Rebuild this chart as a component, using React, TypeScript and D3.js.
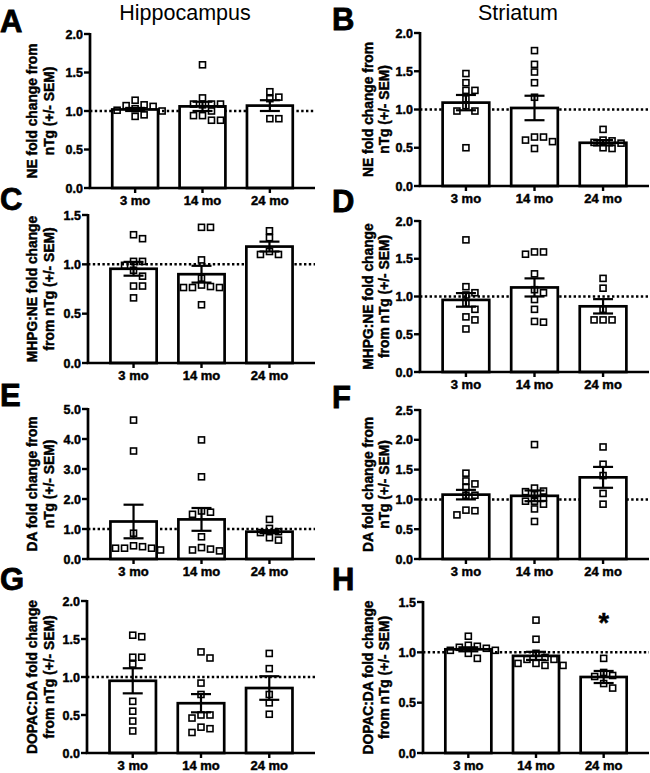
import React from 'react';
import * as d3 from 'd3';

// age groups
const groups = ['3 mo', '14 mo', '24 mo'];

// NE, hippocampus
const neHippo = [
  [1.03, 1.07, 0.93, 1.08, 0.95, 1.14, 1.01, 1.06, 1.0],
  [1.6, 1.17, 1.08, 1.09, 1.09, 1.09, 0.94, 0.88, 0.88, 0.94, 1.0],
  [1.18, 1.16, 1.25, 0.9, 0.9],
];
const neHippoMean = [1.02, 1.06, 1.07];
const neHippoSem = [0.02, 0.06, 0.07];

// NE, striatum
const neStr = [
  [1.47, 1.35, 1.25, 1.25, 1.14, 1.05, 0.98, 0.98, 0.5],
  [1.77, 1.59, 1.49, 1.35, 1.16, 0.64, 0.64, 0.58, 0.49, 0.6],
  [0.74, 0.56, 0.57, 0.6, 0.59, 0.5, 0.49],
];
const neStrMean = [1.09, 1.02, 0.565];
const neStrSem = [0.1, 0.16, 0.035];

// MHPG:NE, hippocampus
const mhpgHippo = [
  [1.26, 1.3, 1.03, 1.03, 0.99, 0.94, 0.88, 0.78, 0.78, 0.66],
  [1.375, 1.375, 1.045, 0.86, 0.775, 0.765, 0.765, 0.765, 0.79, 0.59],
  [1.34, 1.27, 1.13, 1.1, 1.1],
];
const mhpgHippoMean = [0.955, 0.9, 1.18];
const mhpgHippoSem = [0.07, 0.085, 0.05];

// MHPG:NE, striatum
const mhpgStr = [
  [1.75, 1.13, 1.05, 1.02, 0.91, 0.83, 0.73, 0.69, 0.57],
  [1.59, 1.56, 1.59, 1.3, 1.09, 0.96, 1.05, 0.83, 0.66, 0.67],
  [1.24, 1.11, 0.83, 0.69, 0.69, 0.69],
];
const mhpgStrMean = [0.955, 1.12, 0.87];
const mhpgStrSem = [0.09, 0.12, 0.095];

// DA, hippocampus
const daHippo = [
  [4.63, 3.6, 0.86, 0.41, 0.36, 0.3, 0.36, 0.36, 0.44],
  [3.97, 2.74, 1.6, 1.49, 1.56, 0.74, 0.33, 0.27, 0.3, 0.38],
  [1.32, 0.91, 0.88, 1.02, 0.63, 0.71],
];
const daHippoMean = [1.25, 1.32, 0.91];
const daHippoSem = [0.56, 0.38, 0.05];

// DA, striatum
const daStr = [
  [1.44, 1.31, 1.26, 1.2, 1.07, 1.07, 0.82, 0.81, 0.74],
  [1.92, 1.19, 1.14, 1.13, 1.08, 1.03, 0.97, 0.97, 0.92, 0.84, 0.63],
  [1.88, 1.59, 1.4, 1.1, 0.92],
];
const daStrMean = [1.08, 1.06, 1.37];
const daStrSem = [0.08, 0.09, 0.175];

// DOPAC:DA, hippocampus
const dopacHippo = [
  [1.53, 1.55, 1.26, 1.26, 1.17, 0.68, 0.55, 0.42, 0.29],
  [1.25, 1.33, 0.92, 0.77, 0.5, 0.46, 0.5, 0.34, 0.27, 0.32],
  [1.31, 1.11, 0.77, 0.66, 0.51],
];
const dopacHippoMean = [0.95, 0.655, 0.855];
const dopacHippoSem = [0.165, 0.12, 0.155];

// DOPAC:DA, striatum
const dopacStr = [
  [1.16, 1.07, 1.04, 1.05, 1.02, 1.06, 0.94, 1.02, 0.99],
  [1.32, 1.13, 0.99, 0.93, 0.89, 0.87, 0.87, 0.89, 0.93, 0.95],
  [0.94, 0.8, 0.77, 0.76, 0.645, 0.69],
];
const dopacStrMean = [1.03, 0.965, 0.755];
const dopacStrSem = [0.02, 0.04, 0.06];

// tick values
const ticks20 = [0, 0.5, 1.0, 1.5, 2.0];
const ticks15 = [0, 0.5, 1.0, 1.5];
const ticks25 = [0, 0.5, 1.0, 1.5, 2.0, 2.5];
const ticks50 = [0, 1, 2, 3, 4, 5];

const labelNE = ['NE fold change from', 'nTg (+/- SEM)'];
const labelMHPG = ['MHPG:NE fold change', 'from nTg (+/- SEM)'];
const labelDA = ['DA fold change from', 'nTg (+/- SEM)'];
const labelDOPAC = ['DOPAC:DA fold change', 'from nTg (+/- SEM)'];

const FONT = '"Liberation Sans", Arial, sans-serif';
// bold text in the figure is heavier than plain bold, thicken a bit
const heavy = { fontWeight: 'bold' as const, fontFamily: FONT, stroke: '#000', strokeWidth: 0.45 };

const panels = [
  { letter: 'A', col: 0, axisX: 90, top: 34, bottom: 188, ticks: ticks20, label: labelNE, values: neHippo, means: neHippoMean, sems: neHippoSem, letterY: 32 },
  { letter: 'B', col: 1, axisX: 420, top: 33, bottom: 186, ticks: ticks20, label: labelNE, values: neStr, means: neStrMean, sems: neStrSem, letterY: 30 },
  { letter: 'C', col: 0, axisX: 88, top: 215, bottom: 363, ticks: ticks15, label: labelMHPG, values: mhpgHippo, means: mhpgHippoMean, sems: mhpgHippoSem, letterY: 210 },
  { letter: 'D', col: 1, axisX: 420, top: 221, bottom: 372, ticks: ticks20, label: labelMHPG, values: mhpgStr, means: mhpgStrMean, sems: mhpgStrSem, letterY: 212 },
  { letter: 'E', col: 0, axisX: 88, top: 409, bottom: 559, ticks: ticks50, label: labelDA, values: daHippo, means: daHippoMean, sems: daHippoSem, letterY: 406 },
  { letter: 'F', col: 1, axisX: 420, top: 410, bottom: 559, ticks: ticks25, label: labelDA, values: daStr, means: daStrMean, sems: daStrSem, letterY: 408 },
  { letter: 'G', col: 0, axisX: 87, top: 601, bottom: 753, ticks: ticks20, label: labelDOPAC, values: dopacHippo, means: dopacHippoMean, sems: dopacHippoSem, letterY: 590 },
  { letter: 'H', col: 1, axisX: 423, top: 602, bottom: 753, ticks: ticks15, label: labelDOPAC, values: dopacStr, means: dopacStrMean, sems: dopacStrSem, letterY: 590, star: { group: 2, value: 1.34 } },
];

// simple swarm so squares don't sit on top of each other
function swarm(vals: number[], y: (v: number) => number, cx: number) {
  const step = 9;
  const placed: { x: number; y: number }[] = [];
  const out: { x: number; y: number }[] = new Array(vals.length);
  const order = vals.map((v, i) => ({ v, i })).sort((a, b) => b.v - a.v);
  const offsets = [0];
  for (let j = 1; j < 10; j++) offsets.push(j * step, -j * step);
  for (const { v, i } of order) {
    const py = y(v);
    let px = cx;
    for (const dx of offsets) {
      const hit = placed.some(p => Math.abs(p.x - (cx + dx)) < 8 && Math.abs(p.y - py) < 6.5);
      if (!hit) { px = cx + dx; break; }
    }
    placed.push({ x: px, y: py });
    out[i] = { x: px, y: py };
  }
  return out;
}

const Panel = ({ p }: { p: typeof panels[number] }) => {
  const xEnd = p.col === 0 ? 315 : 649;
  const x = d3.scaleBand().domain(groups).range([p.axisX, xEnd]).paddingInner(0.32).paddingOuter(0.33);
  const yMax = p.ticks[p.ticks.length - 1];
  const y = d3.scaleLinear().domain([0, yMax]).range([p.bottom, p.top]);
  const fmt = d3.format('.1f');
  const bw = x.bandwidth();
  const labX = p.col === 0 ? [32, 49] : [368, 384];
  const midY = (p.top + p.bottom) / 2;
  const letterX = p.col === 0 ? 0 : 332;

  return (
    <g>
      <text x={letterX} y={p.letterY} fontSize={31} {...heavy} strokeWidth={0.8}>{p.letter}</text>
      {p.label.map((l, i) => (
        <text key={i} transform={`translate(${labX[i]},${midY}) rotate(-90)`} textAnchor="middle" dy="0.35em"
          fontSize={13.8} {...heavy}>{l}</text>
      ))}
      {/* reference line at 1 */}
      <line x1={p.axisX} x2={xEnd} y1={y(1)} y2={y(1)} stroke="#000" strokeWidth={2.5} strokeDasharray="2.4,2.4" />
      {groups.map((g, gi) => (
        <rect key={g} x={x(g)} y={y(p.means[gi])} width={bw} height={y(0) - y(p.means[gi])}
          fill="#fff" stroke="#000" strokeWidth={2.7} />
      ))}
      {groups.map((g, gi) => {
        const cx = (x(g) as number) + bw / 2;
        const pts = swarm(p.values[gi], y, cx);
        return (
          <g key={g}>
            {pts.map((pt, k) => (
              <rect key={k} x={pt.x - 3} y={pt.y - 3} width={6} height={6} fill="none" stroke="#000" strokeWidth={1.6} />
            ))}
          </g>
        );
      })}
      {groups.map((g, gi) => {
        const cx = (x(g) as number) + bw / 2;
        const hi = y(p.means[gi] + p.sems[gi]);
        const lo = y(p.means[gi] - p.sems[gi]);
        return (
          <g key={g} stroke="#000" strokeWidth={2.2}>
            <line x1={cx} x2={cx} y1={hi} y2={lo} />
            <line x1={cx - 10} x2={cx + 10} y1={hi} y2={hi} />
            <line x1={cx - 10} x2={cx + 10} y1={lo} y2={lo} />
          </g>
        );
      })}
      {/* axes */}
      <line x1={p.axisX} x2={p.axisX} y1={p.top - 1} y2={p.bottom} stroke="#000" strokeWidth={2.7} />
      <line x1={p.axisX - 1.35} x2={xEnd} y1={p.bottom} y2={p.bottom} stroke="#000" strokeWidth={2.7} />
      {p.ticks.map(t => (
        <g key={t}>
          <line x1={p.axisX - 6} x2={p.axisX} y1={y(t)} y2={y(t)} stroke="#000" strokeWidth={2.4} />
          <text x={p.axisX - 7} y={y(t)} dy="0.36em" textAnchor="end" fontSize={12.5} {...heavy}>{fmt(t)}</text>
        </g>
      ))}
      {groups.map(g => {
        const cx = (x(g) as number) + bw / 2;
        return (
          <g key={g}>
            <line x1={cx} x2={cx} y1={p.bottom} y2={p.bottom + 5} stroke="#000" strokeWidth={2.4} />
            <text x={cx} y={p.bottom + 17} textAnchor="middle" fontSize={13} {...heavy}>{g}</text>
          </g>
        );
      })}
      {p.star && (
        <text x={(x(groups[p.star.group]) as number) + bw / 2} y={y(p.star.value) + 14} textAnchor="middle"
          fontSize={27} {...heavy}>*</text>
      )}
    </g>
  );
};

export default function App() {
  return (
    <svg width={650} height={773} style={{ position: 'absolute', left: 0, top: 0, background: '#fff' }}>
      <rect width={650} height={773} fill="#fff" />
      <text x={185} y={20} textAnchor="middle" fontSize={21.5} fontFamily={FONT}>Hippocampus</text>
      <text x={518} y={20} textAnchor="middle" fontSize={21.5} fontFamily={FONT}>Striatum</text>
      {panels.map(p => <Panel key={p.letter} p={p} />)}
    </svg>
  );
}
